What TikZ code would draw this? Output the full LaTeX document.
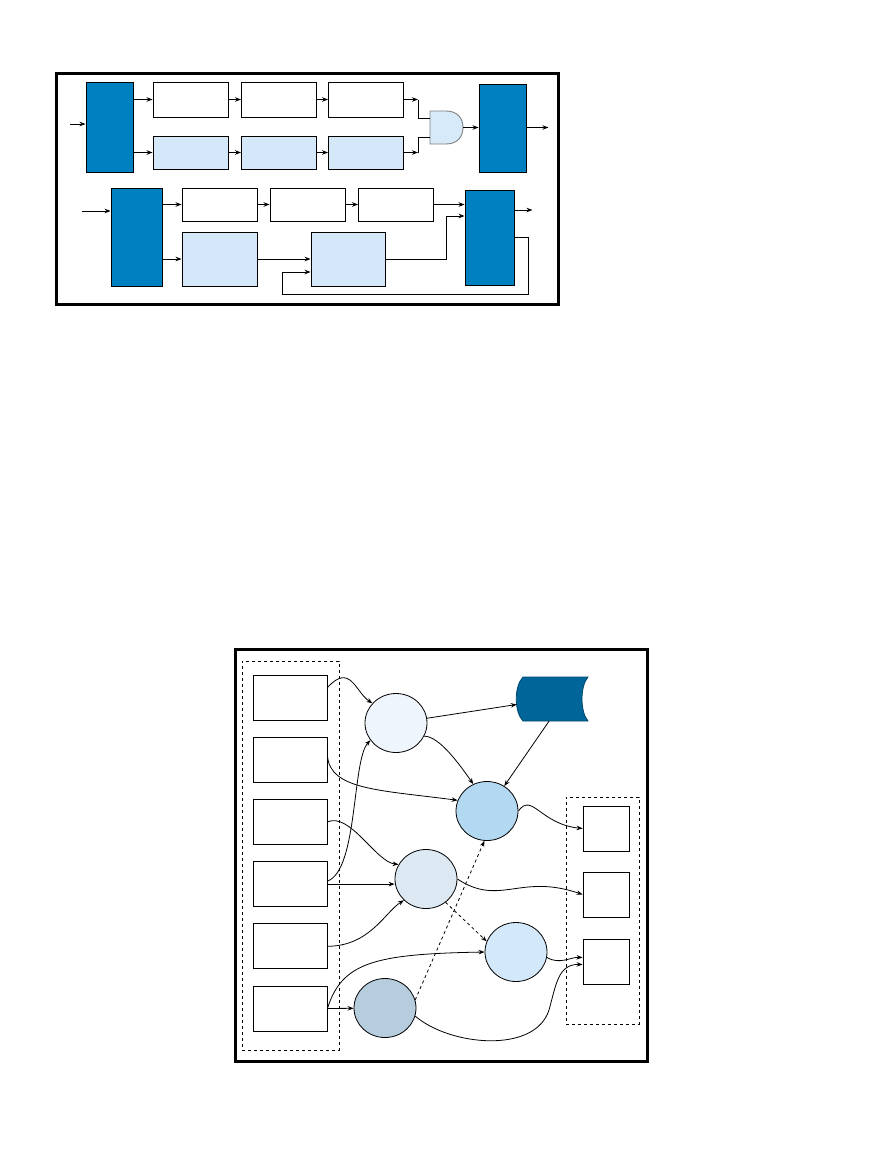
\documentclass[tikz,border=0pt]{standalone}
\usepackage{xcolor}
\usepackage{tikz}
\usetikzlibrary{calc,arrows.meta,shapes.geometric}
\definecolor{figdark}{HTML}{0080C0}
\definecolor{figstore}{HTML}{006699}
\definecolor{figlight}{HTML}{D4E8FA}
\definecolor{figgate}{HTML}{D6EAFA}
\definecolor{figca}{HTML}{EEF5FC}
\definecolor{figcb}{HTML}{B3D9F2}
\definecolor{figcc}{HTML}{DCE9F3}
\definecolor{figcd}{HTML}{D3E8FA}
\definecolor{figce}{HTML}{B5CDDD}
\tikzset{
  blk/.style={draw,line width=0.9pt,inner sep=0pt,fill=figdark},
  wbox/.style={draw,line width=0.9pt,inner sep=0pt,fill=white},
  lbox/.style={wbox,fill=figlight},
  grp/.style={draw,dashed,line width=0.8pt,inner sep=0pt},
  bub/.style={ellipse,draw,line width=0.8pt,inner sep=0pt,minimum width=62pt,minimum height=59pt},
  panel/.style={draw,line width=3pt},
  conn/.style={line width=0.8pt,->},
}

\begin{document}
\begin{tikzpicture}[x=1pt,y=-1pt,>={Stealth[length=6pt,width=4.5pt]}]
    \useasboundingbox (0,0) rectangle (878,1175);
    % upper panel
    \draw[panel] (56.5,73.5) rectangle (558.5,304.5);
    \node[blk,minimum width=47pt,minimum height=90pt] (splitA) at (109.5,127) {};
    \foreach \n/\x in {1/190.5,2/279,3/366} {
      \node[wbox,minimum width=75pt,minimum height=35pt] (ta\n) at (\x,99.5) {};
      \node[lbox,minimum width=75pt,minimum height=33pt] (tb\n) at (\x,152.5) {};
    }
    \draw[line width=0.9pt,draw=gray,fill=figgate] (430,111) -- (446,111) .. controls (458,111) and (463,119) .. (463,127.5)
      .. controls (463,136) and (458,144) .. (446,144) -- (430,144) -- cycle;
    \coordinate (gin1) at (430,118);
    \coordinate (gin2) at (430,137);
    \coordinate (gout) at (463,127.5);
    \node[blk,minimum width=47pt,minimum height=88pt] (mergeA) at (502.5,128) {};
    \coordinate (inA) at (70,124);
    \draw[conn] (inA) -- (inA -| splitA.west);
    \draw[conn] (splitA.east |- ta1) -- (ta1);
    \draw[conn] (splitA.east |- tb1) -- (tb1);
    \foreach \a/\b in {1/2,2/3} {
      \draw[conn] (ta\a) -- (ta\b);
      \draw[conn] (tb\a) -- (tb\b);
    }
    \coordinate (ja) at ([xshift=14pt]ta3.east);
    \coordinate (jb) at ([xshift=14pt]tb3.east);
    \draw[conn] (ta3) -- (ja);
    \draw[line width=0.8pt] (ja) |- (gin1);
    \draw[conn] (tb3) -- (jb);
    \draw[line width=0.8pt] (jb) |- (gin2);
    \draw[conn] (gout) -- (gout -| mergeA.west);
    \draw[conn] (gout -| mergeA.east) -- ++(22,0);
    % lower part of upper panel
    \node[blk,minimum width=51pt,minimum height=98pt] (splitB) at (136.5,237) {};
    \foreach \n/\x in {1/219.5,2/307.5,3/396}
      \node[wbox,minimum width=75pt,minimum height=33pt] (ua\n) at (\x,204.5) {};
    \node[lbox,minimum width=75pt,minimum height=54pt] (ub1) at (219.5,259) {};
    \node[lbox,minimum width=74pt,minimum height=54pt] (ub2) at (348,259) {};
    \node[blk,minimum width=49pt,minimum height=95pt] (mergeB) at (489.5,237.5) {};
    \coordinate (inB) at (82,211);
    \draw[conn] (inB) -- (inB -| splitB.west);
    \draw[conn] (splitB.east |- ua1) -- (ua1);
    \draw[conn] (ua1) -- (ua2);
    \draw[conn] (ua2) -- (ua3);
    \draw[conn] (ua3) -- (ua3 -| mergeB.west);
    \draw[conn] (splitB.east |- ub1) -- (ub1);
    \draw[conn] (ub1) -- (ub2);
    \coordinate (jc) at (446,216);
    \draw[conn] (ub2) -| (jc) -- (jc -| mergeB.west);
    \draw[conn] ([yshift=27.5pt]mergeB.east) -- ++(18,0);
    \coordinate (fa) at (528,294);
    \coordinate (fb) at (282,272);
    \draw[conn] (mergeB.east) -| (fa) -| (fb) -- (fb -| ub2.west);
    % lower panel
    \draw[panel] (235.5,649.5) rectangle (647.5,1061.5);
    \node[grp,minimum width=97pt,minimum height=389pt] (srcs) at (290.5,855.5) {};
    \foreach \i in {1,...,6}
      \node[wbox,minimum width=74pt,minimum height=45pt] (src\i) at (290,{697.5+62.2*(\i-1)}) {};
    \node[grp,minimum width=73pt,minimum height=227pt] (sinks) at (602.5,910.5) {};
    \foreach \i/\y in {1/828.5,2/894.5,3/961.5}
      \node[wbox,minimum width=46pt,minimum height=45pt] (snk\i) at (606,\y) {};
    \node[bub,fill=figca] (pa) at (396,723) {};
    \node[bub,fill=figcb] (pb) at (487,811) {};
    \node[bub,fill=figcc] (pc) at (426,879) {};
    \node[bub,fill=figcd] (pd) at (516,952) {};
    \node[bub,fill=figce] (pe) at (385,1008) {};
    \node[minimum width=71pt,minimum height=44pt,inner sep=0pt] (store) at (552.5,699) {};
    \draw[line width=0.8pt,draw=figstore!70!black,fill=figstore] (523,677) -- (588,677) .. controls (580,686) and (580,712) .. (588,721)
      -- (523,721) .. controls (514,712) and (514,686) .. (523,677) -- cycle;
    \draw[conn] ([yshift=10pt]src1.east) .. controls +(23,-25) and +(-17,-11) .. (pa.140);
    \draw[conn] (pa) -- (store);
    \draw[conn] (pa.-25) .. controls +(15,0) and +(-14,-20) .. (pb.117);
    \draw[conn] ([xshift=-3.5pt]store.south) -- (pb);
    \draw[conn] ([yshift=4pt]src2.east) .. controls (330,790) and (380,790) .. (pb.160);
    \draw[conn] (src3.east) .. controls (350,812) and (376,862) .. (pc.152);
    \draw[conn] ([yshift=3pt]src4.east) .. controls (358,870) and (352,760) .. (pa.214);
    \draw[conn] (src4.east) -- (src4.east -| pc.west);
    \draw[conn] (src5.east) .. controls (370,946) and (385,912) .. (pc.224);
    \draw[conn] (src6.east) .. controls (342,962) and (375,954) .. (pd.180);
    \draw[conn] (src6.east) -- (pe);
    \draw[conn,dashed] (pe.15) -- (pb.265);
    \draw[conn,dashed] (pc.-50) -- (pd.160);
    \draw[conn] (pb.east) .. controls (532,792) and (540,824) .. (snk1.west);
    \draw[conn] (pc.east) .. controls (500,907) and (520,873) .. (snk2.west);
    \draw[conn] (pd.-10) .. controls (560,965) and (570,957) .. ([yshift=4pt]snk3.west);
    \draw[conn] (pe.-15) .. controls (450,1046) and (535,1054) .. (549,1010)
      .. controls (556,985) and (558,964) .. ([yshift=-3pt]snk3.west);
  \end{tikzpicture}
\end{document}
